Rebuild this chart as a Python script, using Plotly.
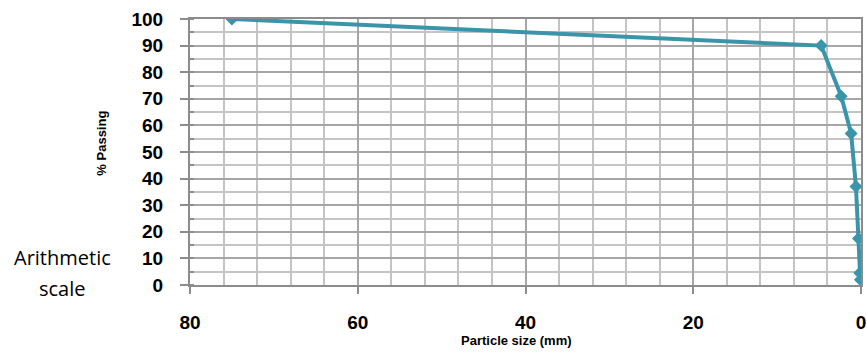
import plotly.graph_objects as go

# Data
particle_size_mm = [75, 4.75, 2.36, 1.18, 0.6, 0.3, 0.15, 0.075]
percent_passing = [100, 90, 71, 57, 37, 17.5, 4.5, 2]

x_ticks = [80, 60, 40, 20, 0]
y_ticks = [0, 10, 20, 30, 40, 50, 60, 70, 80, 90, 100]

W, H = 867, 354
ML, MR, MT, MB = 190, 1, 19, 69
pw = W - ML - MR
ph = H - MT - MB

line_color = "#3a95aa"
fig = go.Figure()
fig.add_trace(go.Scatter(
    x=particle_size_mm, y=percent_passing, mode="lines+markers",
    line=dict(color=line_color, width=4),
    marker=dict(symbol="diamond", size=10, color=line_color),
    showlegend=False,
))

tick_font = dict(family="Liberation Sans, Arial", size=19, color="#000000")

fig.update_layout(
    width=W, height=H,
    margin=dict(l=ML, r=MR, t=MT, b=MB, pad=0),
    paper_bgcolor="white", plot_bgcolor="white",
    xaxis=dict(
        range=[80, 0], tickvals=x_ticks, ticktext=[f"<b>{v}</b>" for v in x_ticks],
        tickfont=tick_font, ticks="outside", ticklen=7, tickwidth=2, tickcolor="#8c8c8c",
        ticklabelstandoff=12, ticklabeloverflow="allow",
        showgrid=True, gridcolor="#a6a6a6", gridwidth=2,
        minor=dict(dtick=4, tick0=0, showgrid=True, gridcolor="#c4c4c4", gridwidth=2, ticks=""),
        showline=True, linecolor="#8c8c8c", linewidth=2, mirror=True,
        zeroline=False,
    ),
    yaxis=dict(
        range=[0, 100], tickvals=y_ticks, ticktext=[f"<b>{v}</b>" for v in y_ticks],
        tickfont=tick_font, ticks="outside", ticklen=8, tickwidth=2, tickcolor="#8c8c8c",
        ticklabelstandoff=13, ticklabeloverflow="allow",
        showgrid=True, gridcolor="#a6a6a6", gridwidth=2,
        minor=dict(dtick=5, tick0=0, showgrid=True, gridcolor="#c4c4c4", gridwidth=2, ticks="inside", ticklen=4, tickcolor="#8c8c8c"),
        showline=True, linecolor="#8c8c8c", linewidth=2, mirror=True,
        zeroline=False,
    ),
)

fig.add_annotation(
    text="<b>Particle size (mm)</b>", xref="paper", yref="paper",
    x=(519 - ML) / pw, y=(MT + ph - 340) / ph, xanchor="center", yanchor="middle",
    showarrow=False, font=dict(family="Liberation Sans, Arial", size=13, color="#000"),
)
fig.add_annotation(
    text="<b>% Passing</b>", xref="paper", yref="paper", textangle=-90,
    x=(100 - ML) / pw, y=(MT + ph - 143) / ph, xanchor="center", yanchor="middle",
    showarrow=False, font=dict(family="Liberation Sans, Arial", size=13, color="#000"),
)
for txt, ypix in [("Arithmetic", 257), ("scale", 288)]:
    fig.add_annotation(
        text=txt, xref="paper", yref="paper",
        x=(62 - ML) / pw, y=(MT + ph - ypix) / ph, xanchor="center", yanchor="middle",
        showarrow=False, align="center",
        font=dict(family="Open Sans", size=20, color="#000"),
    )

fig.write_html("out.html")
